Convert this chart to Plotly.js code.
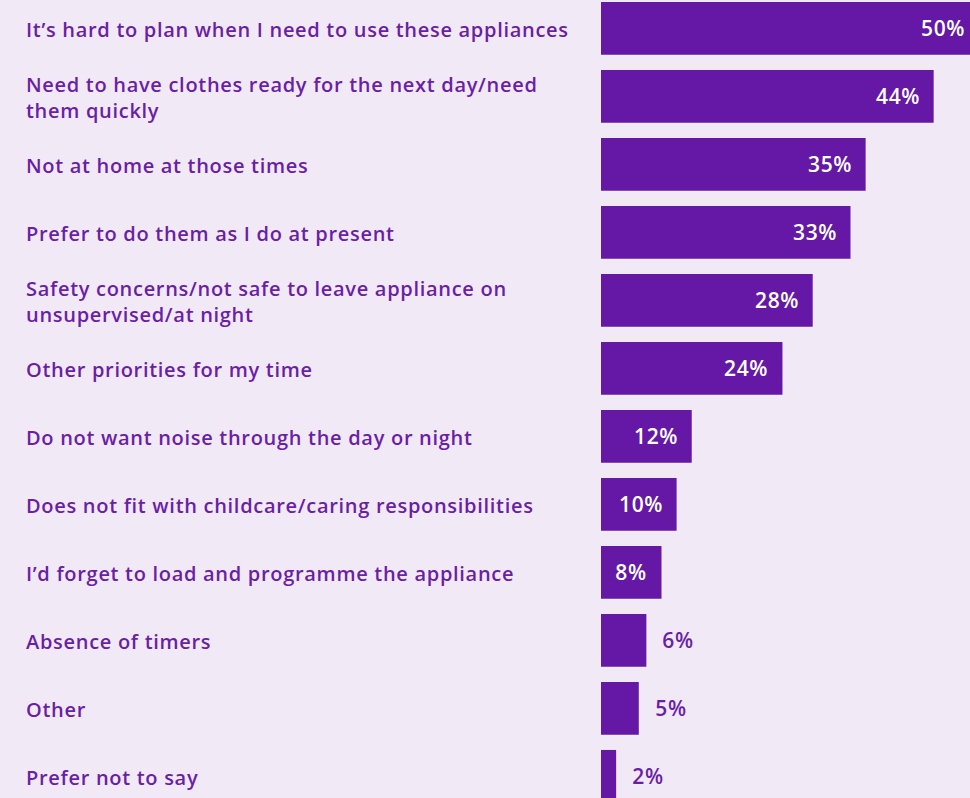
<!DOCTYPE html>
<html>
<head>
<meta charset="utf-8">
<script src="https://cdn.plot.ly/plotly-3.0.1.min.js"></script>
<style>
html,body{margin:0;padding:0;background:#f2e9f6;overflow:hidden;width:970px;height:798px;}
#chart{width:990px;height:798px;}
#chart .annotation-text{letter-spacing:0.7px;}
</style>
</head>
<body>
<div id="chart"></div>
<script>
const categories = [
  "It’s hard to plan when I need to use these appliances",
  "Need to have clothes ready for the next day/need<br>them quickly",
  "Not at home at those times",
  "Prefer to do them as I do at present",
  "Safety concerns/not safe to leave appliance on<br>unsupervised/at night",
  "Other priorities for my time",
  "Do not want noise through the day or night",
  "Does not fit with childcare/caring responsibilities",
  "I’d forget to load and programme the appliance",
  "Absence of timers",
  "Other",
  "Prefer not to say"
];
const values = [50, 44, 35, 33, 28, 24, 12, 10, 8, 6, 5, 2];
const valueLabels = ["50%", "44%", "35%", "33%", "28%", "24%", "12%", "10%", "8%", "6%", "5%", "2%"];

const purple = "#6418a5";
const textPurple = "#6a1fa8";
const fontFam = "'Open Sans', 'Noto Sans', sans-serif";

const trace = {
  type: "bar",
  orientation: "h",
  x: values,
  y: categories,
  marker: {color: purple},
  hoverinfo: "none"
};

const annotations = [];
categories.forEach((c, i) => {
  annotations.push({
    xref: "paper", yref: "y",
    x: -1.4756, y: c,
    xshift: -3, yshift: -1,
    text: c,
    showarrow: false,
    xanchor: "left", yanchor: "middle", align: "left",
    font: {family: fontFam, size: 20, color: textPurple, weight: 600}
  });
  const inside = values[i] >= 8;
  annotations.push({
    xref: "x", yref: "y",
    x: values[i], y: c,
    text: valueLabels[i],
    showarrow: false,
    xanchor: inside ? "right" : "left",
    yanchor: "middle",
    xshift: inside ? -13 : 15,
    font: {family: fontFam, size: 21, color: inside ? "#ffffff" : textPurple, weight: 600}
  });
});

const layout = {
  width: 990, height: 798,
  margin: {l: 601, r: 0, t: 0, b: 0, pad: 0},
  paper_bgcolor: "#f2e9f6",
  plot_bgcolor: "#f2e9f6",
  showlegend: false,
  bargap: 0.225,
  xaxis: {range: [0, 51.45], visible: false, fixedrange: true},
  yaxis: {type: "category", range: [11.319, -0.416], showticklabels: false,
          showgrid: false, zeroline: false, showline: false, ticks: "", fixedrange: true},
  annotations: annotations
};

Plotly.newPlot("chart", [trace], layout, {displayModeBar: false, staticPlot: true});
</script>
</body>
</html>
